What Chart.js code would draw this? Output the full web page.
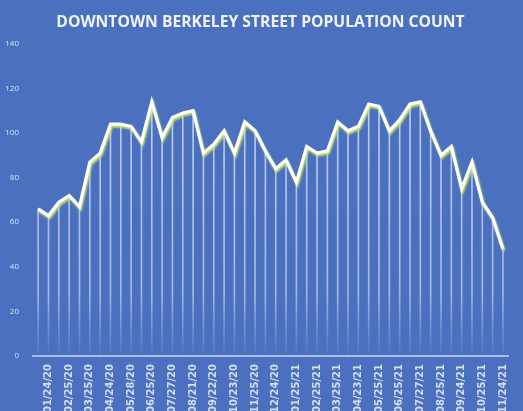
<!DOCTYPE html>
<html><head><meta charset="utf-8">
<script src="https://cdn.jsdelivr.net/npm/chart.js@4/dist/chart.umd.min.js"></script>
<style>html,body{margin:0;padding:0;background:#4a70bf;overflow:hidden}#wrap{width:523px;height:411px;position:relative}</style>
</head><body><div id="wrap"><canvas id="c"></canvas></div>
<script>
const chartTitle = 'DOWNTOWN BERKELEY STREET POPULATION COUNT';
const labeledDates = ['01/24/20','02/25/20','03/25/20','04/24/20','05/28/20','06/25/20','07/27/20','08/21/20','09/22/20','10/23/20','11/25/20','12/24/20','01/25/21','02/25/21','03/25/21','04/23/21','05/25/21','06/25/21','07/27/21','08/25/21','09/24/21','10/25/21','11/24/21'];
const counts = [66,63,69,72,67,87,91,104,104,103,96,114,98,107,109,110,91,95,101,91,105,101,92,84,88,78,94,91,92,105,101,103,113,112,101,106,113,114,101,90,94,75,87,69,62,48];
const yTicks = [0,20,40,60,80,100,120,140];
// Every other category carries a date label
const categories = counts.map((_, i) => (i % 2 === 1 ? labeledDates[(i - 1) / 2] : ''));

const glow = {
  id: 'glow',
  beforeDatasetDraw(chart, args) {
    if (args.index === 0) {
      const c = chart.ctx; c.save();
      c.shadowColor = 'rgba(205,235,95,0.95)';
      c.shadowOffsetX = 1; c.shadowOffsetY = 2; c.shadowBlur = 2;
    }
  },
  afterDatasetDraw(chart, args) { if (args.index === 0) chart.ctx.restore(); }
};

function dropGradient(context) {
  const chart = context.chart; const a = chart.chartArea;
  if (!a) return 'rgba(255,255,255,0.5)';
  const g = chart.ctx.createLinearGradient(0, a.top, 0, a.bottom);
  g.addColorStop(0, 'rgba(255,255,255,0.7)');
  g.addColorStop(0.8, 'rgba(255,255,255,0.5)');
  g.addColorStop(1, 'rgba(255,255,255,0.03)');
  return g;
}

new Chart(document.getElementById('c'), {
  data: {
    labels: categories,
    datasets: [
      { type: 'line', data: counts, borderColor: '#ffffff', borderWidth: 3.2, pointRadius: 0, tension: 0, order: 1, borderJoinStyle: 'miter' },
      { type: 'bar', data: counts, barThickness: 1, backgroundColor: dropGradient, order: 2 }
    ]
  },
  options: {
    responsive: true, maintainAspectRatio: false, animation: false,
    layout: { padding: { left: 0, right: 2, top: 0, bottom: 0 } },
    plugins: {
      legend: { display: false }, tooltip: { enabled: false },
      title: { display: true, text: chartTitle, color: '#f0f3f8', font: { family: 'Open Sans', size: 15.7, weight: 'bold' }, padding: { top: 13, bottom: 12 } }
    },
    scales: {
      x: {
        offset: true,
        grid: { display: false, drawTicks: false },
        border: { color: '#a9bde6', width: 2 },
        ticks: { autoSkip: false, maxRotation: 90, minRotation: 90, color: '#d5dff2', font: { size: 10, family: 'DejaVu Sans', weight: 'bold' }, padding: 8 },
        afterFit(s) { s.height = 55; }
      },
      y: {
        min: 0, max: 140,
        afterBuildTicks(s) { s.ticks = yTicks.map(v => ({ value: v })); },
        ticks: { color: '#dce4f4', font: { size: 8, family: 'Open Sans' }, padding: 6 },
        grid: { display: false }, border: { display: false },
        afterFit(s) { s.width = 33; }
      }
    }
  },
  plugins: [glow]
});
</script></body></html>
